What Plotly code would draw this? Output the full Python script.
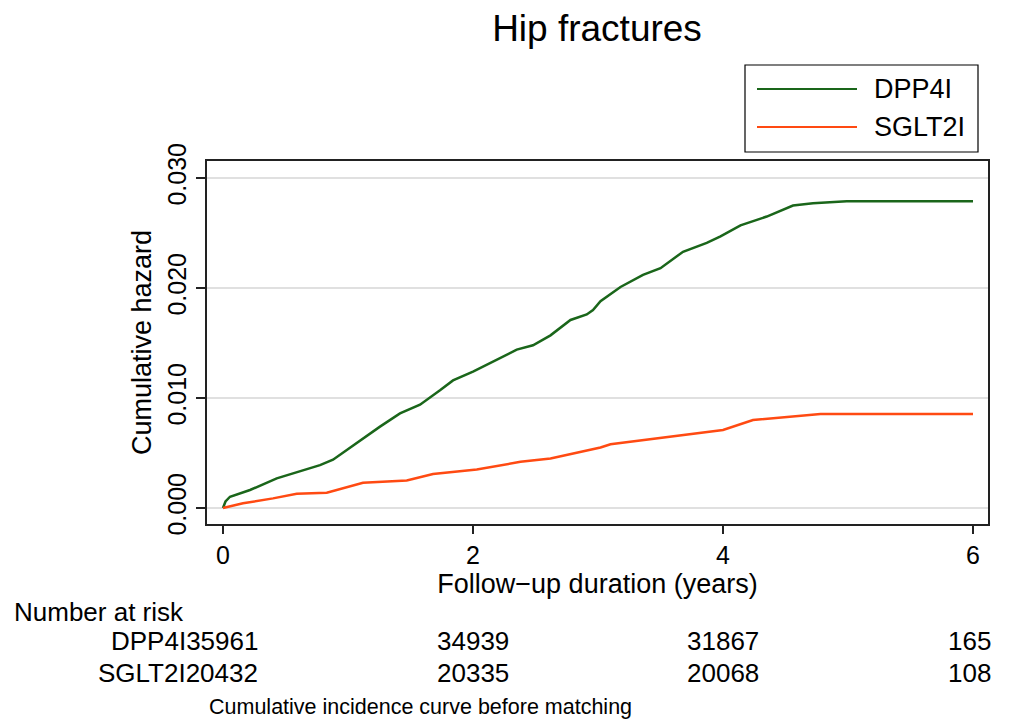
import plotly.graph_objects as go

# cumulative hazard
dpp4_t = [0, 0.02, 0.056, 0.216, 0.43, 0.56, 0.776, 0.88, 1.04, 1.256, 1.416, 1.576, 1.736, 1.84, 2.0,
          2.16, 2.35, 2.48, 2.62, 2.78, 2.91, 2.96, 3.02, 3.18, 3.36, 3.50, 3.68, 3.87, 3.98, 4.14,
          4.35, 4.56, 4.72, 4.99, 6.0]
dpp4_h = [0, 0.0006, 0.00103, 0.00164, 0.0027, 0.00315, 0.0039, 0.0044, 0.0057, 0.0074, 0.0086, 0.0094,
          0.0107, 0.0116, 0.0124, 0.0133, 0.0144, 0.0148, 0.0157, 0.0171, 0.0176, 0.0180, 0.0188, 0.0201,
          0.0212, 0.0218, 0.0233, 0.0241, 0.0247, 0.0257, 0.0265, 0.0275, 0.0277, 0.0279, 0.0279]

sglt2_t = [0, 0.16, 0.40, 0.59, 0.83, 1.12, 1.47, 1.68, 2.03, 2.38, 2.62, 2.83, 3.02, 3.10, 3.39, 3.66,
           4.0, 4.24, 4.51, 4.78, 6.0]
sglt2_h = [0, 0.00043, 0.00088, 0.0013, 0.0014, 0.0023, 0.0025, 0.0031, 0.0035, 0.0042, 0.0045, 0.0050,
           0.0055, 0.0058, 0.0062, 0.0066, 0.0071, 0.0080, 0.0083, 0.00855, 0.00855]

groups = ["DPP4I", "SGLT2I"]
colors = ["#1a661a", "#ff4a12"]
risk_times = [0, 2, 4, 6]
risk_counts = [[35961, 34939, 31867, 165], [20432, 20335, 20068, 108]]

# the page puts the figure 8px in from the corner, so everything is laid out 8px up/left
OFF = 8
W, H = 1011 - OFF, 721 - OFF
L, R, T, B = 207 - OFF, 988 - OFF, 161 - OFF, 524 - OFF   # plot frame in figure pixels
FONT = "Liberation Sans, Arial, sans-serif"


def px(x):
    # reference pixel -> paper x
    return (x - OFF - L) / (R - L)


def py(y):
    # reference pixel -> paper y
    return (B - (y - OFF)) / (B - T)


def tx(t):
    # follow-up time -> reference pixel
    return 223 + 125 * t


fig = go.Figure()
for name, t, h, c in zip(groups, [dpp4_t, sglt2_t], [dpp4_h, sglt2_h], colors):
    fig.add_trace(go.Scatter(x=t, y=h, mode="lines", line=dict(color=c, width=2.5),
                             name=name, showlegend=False))

# hand-drawn legend box (Stata style, long line samples)
shapes = [dict(type="rect", xref="paper", yref="paper", x0=px(745), x1=px(978), y0=py(152), y1=py(65),
               line=dict(color="#000000", width=1.2), fillcolor="white")]
annotations = []
for i, (name, c) in enumerate(zip(groups, colors)):
    yy = py(89 + 38 * i)
    shapes.append(dict(type="line", xref="paper", yref="paper", x0=px(757), x1=px(857), y0=yy, y1=yy,
                       line=dict(color=c, width=2.2)))
    annotations.append(dict(xref="paper", yref="paper", x=px(872), y=yy, text=name, showarrow=False,
                            xanchor="left", yanchor="middle", font=dict(size=27, color="#000")))

# number at risk table
annotations.append(dict(xref="paper", yref="paper", x=px(12), y=py(612), text="Number at risk",
                        showarrow=False, xanchor="left", yanchor="middle", font=dict(size=26, color="#000")))
for i, (name, counts) in enumerate(zip(groups, risk_counts)):
    yy = py(641 + 32 * i)
    annotations.append(dict(xref="paper", yref="paper", x=px(260), y=yy, text=f"{name}{counts[0]}",
                            showarrow=False, xanchor="right", yanchor="middle", font=dict(size=26, color="#000")))
    for t, n in zip(risk_times[1:], counts[1:]):
        last = t == risk_times[-1]
        annotations.append(dict(xref="paper", yref="paper", x=px(993 if last else tx(t)), y=yy, text=str(n),
                                showarrow=False, xanchor="right" if last else "center", yanchor="middle",
                                font=dict(size=26, color="#000")))

annotations.append(dict(xref="paper", yref="paper", x=px(420), y=py(707),
                        text="Cumulative incidence curve before matching", showarrow=False,
                        xanchor="center", yanchor="middle", font=dict(size=21.5, color="#000")))

fig.update_layout(
    width=W, height=H,
    margin=dict(l=L, r=W - R, t=T, b=H - B),
    paper_bgcolor="white", plot_bgcolor="white",
    font=dict(family=FONT, color="#000"),
    title=dict(text="Hip fractures", x=px(597), xref="paper", xanchor="center",
               y=1 - (28 - OFF) / H, yanchor="middle", font=dict(size=37)),
    shapes=shapes, annotations=annotations,
    showlegend=False,
)
fig.update_xaxes(range=[-0.128, 6.12], tickvals=[0, 2, 4, 6], ticktext=["0", "2", "4", "6"],
                 ticks="outside", ticklen=8, tickwidth=1.5, tickcolor="#222",
                 showline=True, linecolor="#222", linewidth=1.5, mirror=True, showgrid=False,
                 zeroline=False, tickfont=dict(size=25),
                 title=dict(text="Follow\u2212up duration (years)", font=dict(size=27), standoff=6))
fig.update_yaxes(range=[-0.00145, 0.03155], tickvals=[0, 0.01, 0.02, 0.03],
                 ticktext=["0.000", "0.010", "0.020", "0.030"], tickangle=-90,
                 ticks="outside", ticklen=9, tickwidth=1.5, tickcolor="#222",
                 showline=True, linecolor="#222", linewidth=1.5, mirror=True,
                 showgrid=True, gridcolor="#e0e0e0", gridwidth=1.8, zeroline=False,
                 tickfont=dict(size=25),
                 title=dict(text="Cumulative hazard", font=dict(size=27), standoff=4))

fig.write_html("out.html")
